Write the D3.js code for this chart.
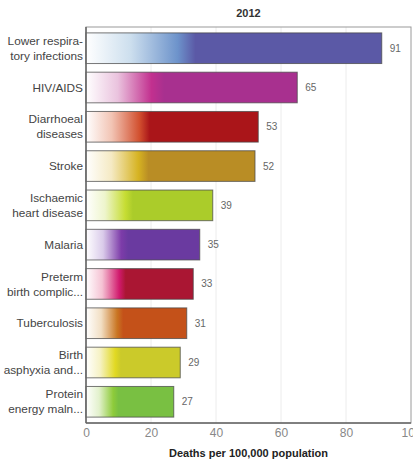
<!DOCTYPE html>
<html>
<head>
<meta charset="utf-8">
<script src="https://cdn.jsdelivr.net/npm/d3@7"></script>
<style>
  html, body { margin: 0; padding: 0; background: #fff; }
  svg { display: block; font-family: "Liberation Sans", Arial, sans-serif; }
</style>
</head>
<body>
<svg id="chart" width="413" height="461"></svg>
<script>
// Leading causes of death, 2012 (deaths per 100,000 population)
const causes = [
  ["Lower respira-", "tory infections"],
  ["HIV/AIDS"],
  ["Diarrhoeal", "diseases"],
  ["Stroke"],
  ["Ischaemic", "heart disease"],
  ["Malaria"],
  ["Preterm", "birth complic..."],
  ["Tuberculosis"],
  ["Birth", "asphyxia and..."],
  ["Protein", "energy maln..."]
];
const deathRates = [91, 65, 53, 52, 39, 35, 33, 31, 29, 27];
const xTicks = [0, 20, 40, 60, 80, 100];
const chartTitle = "2012";
const axisTitle = "Deaths per 100,000 population";

// Per-bar colour ramp: pale tint, brighter mid tone, solid base colour
const baseColors = ["#5b59a6", "#a8308f", "#aa1519", "#b98d25", "#abcc2a", "#6a3aa0", "#aa1633", "#c45119", "#cbca2a", "#79c042"];
const midColors  = ["#6d93cb", "#c2308f", "#d2502f", "#d6b322", "#c6dd33", "#7d3ca9", "#d11a6d", "#c97522", "#e1d922", "#8ecb3a"];
const lightColors = ["#cddfee", "#eac3de", "#f2c4b4", "#f5eac4", "#eef5cc", "#dacbea", "#f5c3d4", "#f2dfc4", "#f6f2c4", "#e2f1cc"];

const svg = d3.select("#chart");
const margin = { left: 86, right: 411, top: 27, bottom: 423 };

const x = d3.scaleLinear().domain([0, 100]).range([margin.left, margin.right]);
const y = d3.scaleBand()
  .domain(d3.range(causes.length))
  .range([margin.top, margin.bottom])
  .paddingInner(0.22)
  .paddingOuter(0.15);

// Gradients
const defs = svg.append("defs");
causes.forEach((c, i) => {
  const g = defs.append("linearGradient")
    .attr("id", "grad" + i)
    .attr("x1", "0").attr("y1", "0").attr("x2", "1").attr("y2", "0");
  g.append("stop").attr("offset", "0").attr("stop-color", "#ffffff");
  g.append("stop").attr("offset", "0.15").attr("stop-color", lightColors[i]);
  g.append("stop").attr("offset", "0.31").attr("stop-color", midColors[i]);
  g.append("stop").attr("offset", "0.37").attr("stop-color", baseColors[i]);
  g.append("stop").attr("offset", "1").attr("stop-color", baseColors[i]);
});

// Gridlines
svg.append("g")
  .selectAll("line")
  .data(xTicks.slice(1, -1))
  .join("line")
  .attr("x1", d => x(d)).attr("x2", d => x(d))
  .attr("y1", margin.top).attr("y2", margin.bottom)
  .attr("stroke", "#ececec")
  .attr("stroke-width", 1);

// Plot frame
svg.append("rect")
  .attr("x", margin.left).attr("y", margin.top)
  .attr("width", margin.right - margin.left)
  .attr("height", margin.bottom - margin.top)
  .attr("fill", "none")
  .attr("stroke", "#9a9a9a")
  .attr("stroke-width", 1);

// Bars
svg.append("g")
  .selectAll("rect")
  .data(deathRates)
  .join("rect")
  .attr("x", x(0))
  .attr("y", (d, i) => y(i))
  .attr("width", d => x(d) - x(0))
  .attr("height", y.bandwidth())
  .attr("fill", (d, i) => `url(#grad${i})`)
  .attr("stroke", "#4a4a4a")
  .attr("stroke-opacity", 0.75)
  .attr("stroke-width", 1);

// Value labels
svg.append("g")
  .selectAll("text")
  .data(deathRates)
  .join("text")
  .attr("x", d => x(d) + 8)
  .attr("y", (d, i) => y(i) + y.bandwidth() / 2)
  .attr("dy", "0.35em")
  .attr("font-size", 10)
  .attr("fill", "#666")
  .text(d => d);

// Axes lines (left and bottom, darker)
svg.append("line")
  .attr("x1", margin.left).attr("x2", margin.left)
  .attr("y1", margin.top).attr("y2", margin.bottom)
  .attr("stroke", "#666").attr("stroke-width", 1.5);
svg.append("line")
  .attr("x1", margin.left).attr("x2", margin.right)
  .attr("y1", margin.bottom).attr("y2", margin.bottom)
  .attr("stroke", "#666").attr("stroke-width", 1.5);

// Category labels
const catG = svg.append("g");
causes.forEach((lines, i) => {
  const cy = y(i) + y.bandwidth() / 2;
  const lh = 15;
  const t = catG.append("text")
    .attr("x", margin.left - 3)
    .attr("text-anchor", "end")
    .attr("font-size", 11.8)
    .attr("fill", "#444");
  lines.forEach((ln, j) => {
    t.append("tspan")
      .attr("x", margin.left - 3)
      .attr("y", cy + (j - (lines.length - 1) / 2) * lh)
      .attr("dy", "0.35em")
      .text(ln);
  });
});

// X axis tick labels
const xAxis = d3.axisBottom(x).tickValues(xTicks).tickSize(0).tickPadding(5);
const xg = svg.append("g")
  .attr("transform", `translate(0,${margin.bottom})`)
  .call(xAxis);
xg.select(".domain").remove();
xg.selectAll("text")
  .attr("font-size", 12)
  .attr("font-family", "Liberation Sans, Arial, sans-serif")
  .attr("fill", "#888");

// Titles
svg.append("text")
  .attr("x", (margin.left + margin.right) / 2)
  .attr("y", 17)
  .attr("text-anchor", "middle")
  .attr("font-size", 11)
  .attr("font-weight", "bold")
  .attr("fill", "#333")
  .text(chartTitle);

svg.append("text")
  .attr("x", (margin.left + margin.right) / 2)
  .attr("y", 457)
  .attr("text-anchor", "middle")
  .attr("font-size", 11)
  .attr("font-weight", "bold")
  .attr("fill", "#222")
  .text(axisTitle);
</script>
</body>
</html>
